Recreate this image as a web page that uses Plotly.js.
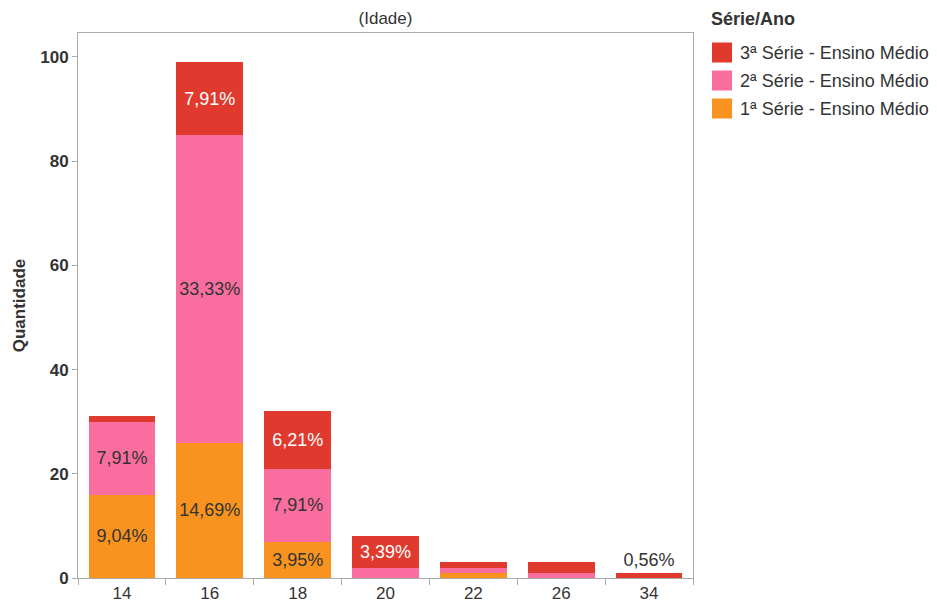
<!DOCTYPE html>
<html>
<head>
<meta charset="utf-8">
<script src="https://cdn.plot.ly/plotly-3.0.1.min.js"></script>
<style>html,body{margin:0;padding:0;background:#fff;}#chart{width:937px;height:603px;}</style>
</head>
<body>
<div id="chart"></div>
<script>
const idades = ['14', '16', '18', '20', '22', '26', '34'];
const serie1 = [16, 26, 7, 0, 1, 0, 0];
const serie2 = [14, 59, 14, 2, 1, 1, 0];
const serie3 = [1, 14, 11, 6, 1, 2, 1];
const nomes = ['1ª Série - Ensino Médio', '2ª Série - Ensino Médio', '3ª Série - Ensino Médio'];
const cores = ['#F7931E', '#F96E9E', '#E03A2E'];
const yTicks = [0, 20, 40, 60, 80, 100];
const legendTitle = 'Série/Ano';

const series = [serie1, serie2, serie3];
const total = series.reduce((s, arr) => s + arr.reduce((a, b) => a + b, 0), 0);
function fmt(v) { return (v / total * 100).toFixed(2).replace('.', ',') + '%'; }

const font = "'Liberation Sans', Arial, sans-serif";
const traces = series.map((vals, si) => {
  const isTop = si === series.length - 1;
  const text = [], pos = [];
  vals.forEach((v, i) => {
    const stackTotal = series.reduce((s, arr) => s + arr[i], 0);
    if (v >= 6) { text.push(fmt(v)); pos.push('inside'); }
    else if (isTop && v > 0 && stackTotal === v) { text.push(fmt(v)); pos.push('outside'); }
    else { text.push(''); pos.push('none'); }
  });
  return {
    type: 'bar', name: nomes[si], x: idades, y: vals,
    marker: { color: cores[si], line: { width: 0 } },
    text: text, textposition: pos, insidetextanchor: 'middle',
    constraintext: 'none', textangle: 0, cliponaxis: false,
    insidetextfont: { family: font, size: 18, color: si === 2 ? '#ffffff' : '#333333' },
    outsidetextfont: { family: font, size: 18, color: '#333333' },
    showlegend: false, hoverinfo: 'x+y+name'
  };
});

// custom legend (plot area: x 78..693 px, y 33..578 px)
const L = 78, W = 615, B = 578, H = 545;
const px = X => (X - L) / W;
const py = Y => (B - Y) / H;
const shapes = [], annotations = [];
annotations.push({ xref: 'paper', yref: 'paper', x: px(709), y: py(19), xanchor: 'left', yanchor: 'middle',
  text: '<b>' + legendTitle + '</b>', showarrow: false, font: { family: font, size: 18, color: '#333333' } });
for (let k = 0; k < series.length; k++) {
  const si = series.length - 1 - k;
  const cy = 52.5 + k * 28;
  shapes.push({ type: 'rect', xref: 'paper', yref: 'paper', x0: px(712), x1: px(732), y0: py(cy - 10), y1: py(cy + 10),
    fillcolor: cores[si], line: { width: 0 } });
  annotations.push({ xref: 'paper', yref: 'paper', x: px(738), y: py(cy), xanchor: 'left', yanchor: 'middle',
    text: nomes[si], showarrow: false, font: { family: font, size: 18, color: '#333333' } });
}

const layout = {
  width: 937, height: 603,
  margin: { l: 78, r: 244, t: 33, b: 25, autoexpand: false },
  paper_bgcolor: '#ffffff', plot_bgcolor: '#ffffff',
  barmode: 'stack', bargap: 0.24,
  font: { family: font, size: 17, color: '#333333' },
  title: { text: '(Idade)', font: { family: font, size: 17, color: '#333333' },
           xref: 'paper', x: 0.5, xanchor: 'center', yref: 'container', y: 1 - 18 / 603, yanchor: 'middle' },
  xaxis: {
    type: 'category', showline: true, linecolor: '#aaaaaa', linewidth: 1, mirror: true,
    ticks: 'outside', tickson: 'boundaries', ticklen: 6, tickcolor: '#aaaaaa',
    showgrid: false, zeroline: false, automargin: false,
    tickfont: { family: font, size: 17, color: '#333333' }
  },
  yaxis: {
    range: [0, 104.6], tickvals: yTicks, ticktext: yTicks.map(String),
    showline: true, linecolor: '#aaaaaa', linewidth: 1, mirror: true,
    ticks: 'outside', ticklen: 5, tickcolor: '#aaaaaa',
    showgrid: false, zeroline: false, automargin: false,
    tickfont: { family: font, size: 17, color: '#333333', weight: 'bold' },
    title: { text: 'Quantidade', standoff: 10, font: { family: font, size: 17, color: '#333333', weight: 'bold' } }
  },
  shapes: shapes,
  annotations: annotations,
  showlegend: false
};

Plotly.newPlot('chart', traces, layout, { displayModeBar: false, responsive: false });
</script>
</body>
</html>
